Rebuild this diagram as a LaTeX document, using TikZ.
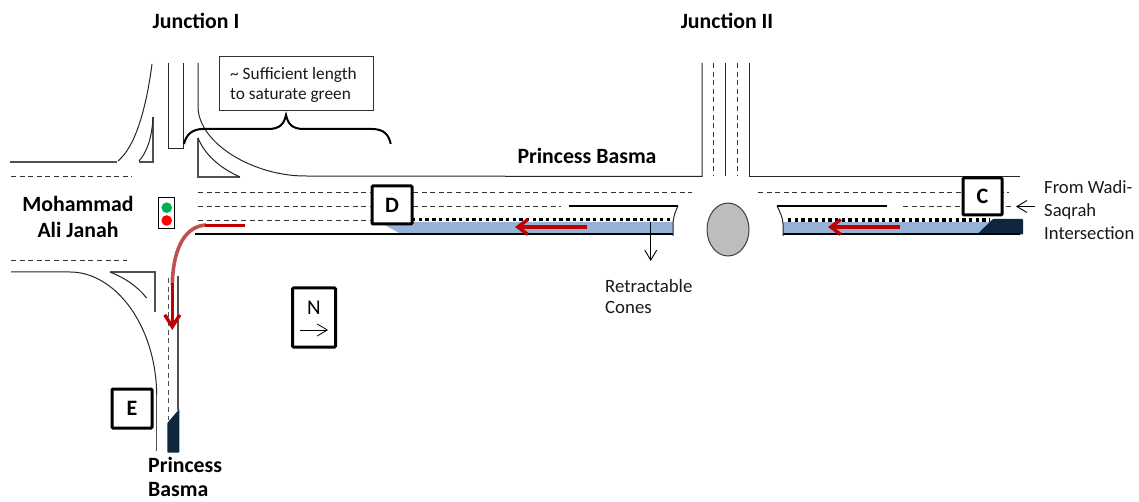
\documentclass[tikz,border=0pt]{standalone}
\usepackage{fontspec}
\setmainfont{Carlito}
\usetikzlibrary{arrows.meta,shapes.geometric}
\definecolor{laneblue}{HTML}{95B3D7}
\definecolor{navyfill}{HTML}{10263F}
\definecolor{redarrow}{HTML}{C00000}
\definecolor{redfade}{HTML}{C0504D}
\definecolor{gline}{HTML}{505050}
\definecolor{signalgreen}{HTML}{00B050}
\definecolor{signalred}{HTML}{FF0000}
\tikzset{
  roadline/.style={draw=black!85,line width=1pt},
  greyline/.style={draw=gline,line width=1.1pt},
  lanedash/.style={draw=black!80,line width=0.9pt,dash pattern=on 5pt off 3.6pt},
  dotline/.style={draw=black,line width=3.4pt,dash pattern=on 3.4pt off 3.3pt},
  thickline/.style={draw=black,line width=2pt},
  tagbox/.style={draw=black,line width=3pt,fill=white,rounded corners=1pt,font=\fontsize{22}{22}\selectfont\bfseries,inner sep=0pt},
  boldlabel/.style={font=\fontsize{21.8}{26}\selectfont\bfseries,align=center,inner sep=0pt},
  plainlabel/.style={font=\fontsize{18.8}{21}\selectfont,align=left,inner sep=0pt,text=black!90},
  pointer/.style={draw=black,line width=0.9pt,-{Straight Barb[length=10pt,width=12pt]}},
  redthick/.style={draw=redarrow,line width=3.6pt},
}
\begin{document}
\begin{tikzpicture}[x=1pt,y=-1pt]
\useasboundingbox (0,0) rectangle (1139,502);
% blue lanes
\fill[laneblue] (383,224) -- (400,233.5) -- (673,233.5) -- (673,222) -- (395,222) -- cycle;
\fill[laneblue] (783,222) -- (783,233.5) -- (980,233.5) -- (995,222) -- cycle;
\fill[navyfill,rounded corners=0.8pt] (977,234.5) -- (993,219) -- (1023,219) -- (1023,234.5) -- cycle;
\fill[navyfill,rounded corners=0.8pt] (167.3,423) -- (179.3,409) -- (179.3,452.7) -- (167.3,452.7) -- cycle;
% junction I, north side
\draw[greyline] (10,162) -- (117,162);
\draw[roadline] (118,161) .. controls (135,147) and (146,110) .. (152,64);
\draw[greyline] (153,117) -- (153,162) -- (139,162);
\draw[roadline] (139,161) .. controls (147,152) and (152,138) .. (153,117);
\draw[roadline] (168.5,63) -- (168.5,149) -- (183,149) -- (183,63);
\draw[roadline] (198,63) -- (198,108) .. controls (200,145) and (255,176) .. (305,176) -- (702,176.5) -- (702,63);
\draw[greyline] (198,138) -- (198,177) -- (240,177);
\draw[roadline] (198,138) .. controls (205,155) and (220,168) .. (240,177);
\draw[lanedash] (11,176.5) -- (132,176.5);
% lanes west
\draw[lanedash] (198,192) -- (692,192);
\draw[lanedash] (198,206) -- (561,206);
\draw[lanedash] (198,220) -- (372,220);
\draw[dotline] (412,219.5) -- (673,219.5);
\draw[thickline] (569,206.5) -- (678,206.5);
\draw[thickline] (195,234) -- (673,234);
\draw[roadline] (678,206) .. controls (675,212) and (673,218) .. (673,224) -- (673,236);
% junction II
\draw[roadline] (749.5,63) -- (749.5,177) -- (1020,177);
\draw[roadline] (725,63) -- (725,176);
\draw[lanedash] (713,63) -- (713,176);
\draw[lanedash] (737.5,63) -- (737.5,176);
\node[draw=black!75,line width=1pt,fill=black!26,ellipse,minimum width=42pt,minimum height=53pt,inner sep=0pt] (roundabout) at (728,229.5) {};
% lanes east
\draw[lanedash] (758,192) -- (1009,192);
\draw[lanedash] (903,206.5) -- (1013,206.5);
\draw[thickline] (777,206.5) -- (887,206.5);
\draw[dotline] (788,220) -- (990,220);
\draw[thickline] (783,234) -- (1020,234);
\draw[roadline] (777,206) .. controls (780,212) and (783,218) .. (783,224) -- (783,236);
% south side
\draw[lanedash] (11,260) -- (127,260);
\draw[roadline] (11,272) -- (70,272) .. controls (115,272) and (156,325) .. (156.7,395);
\draw[greyline] (156.7,395) -- (156.7,451);
\draw[greyline] (110,272) -- (155,272) -- (155,312);
\draw[roadline] (110,272) .. controls (125,278) and (137,286) .. (146.6,298);
\draw[lanedash,draw=gline] (168,278) -- (168,420);
\draw[greyline] (178,276) -- (178,410);
% red movements
\draw[draw=redfade,line width=3.6pt] (206,225) .. controls (187,226) and (173,245) .. (172.3,285);
\draw[redthick] (205,225.5) -- (245,225.5);
\draw[redthick,-{Straight Barb[length=12pt,width=15pt,line width=3.4pt]}] (172.3,283) -- (172.3,330);
\draw[redthick,-{Straight Barb[length=10pt,width=15pt,line width=3.4pt]}] (587,227) -- (515,227);
\draw[redthick,-{Straight Barb[length=10pt,width=15pt,line width=3.4pt]}] (900,227) -- (828,227);
% signal
\node[draw=black,line width=0.9pt,fill=white,minimum width=16pt,minimum height=31pt,inner sep=0pt] (signal) at (166,212.5) {};
\fill[signalgreen] (166.7,207.7) circle (5.3);
\fill[signalred] (166.7,220.5) circle (5.3);
% brace
\draw[draw=black,line width=2pt] (184,144) .. controls (186,135) and (192,129) .. (203,129) -- (268,129) .. controls (280,129) and (284,124) .. (286,115) .. controls (288,124) and (292,129) .. (304,129) -- (372,129) .. controls (384,129) and (389,135) .. (390.7,144);
% tags and labels
\node[draw=black!80,line width=1pt,fill=white,minimum width=154pt,minimum height=53.5pt,inner sep=0pt] (notebox) at (296,83.5) {};
\node[plainlabel,anchor=west,font=\fontsize{17.3}{20}\selectfont] (notetext) at (230,84.5) {\textasciitilde{} Sufficient length\\to saturate green};
\node[tagbox,minimum width=40pt,minimum height=38pt] (tagD) at (392,205) {D};
\node[tagbox,minimum width=39pt,minimum height=37pt] (tagC) at (982.5,196.5) {C};
\node[tagbox,minimum width=40pt,minimum height=39pt] (tagE) at (132,408.5) {E};
\node[draw=black,line width=3pt,fill=white,rounded corners=1pt,minimum width=43pt,minimum height=59pt,inner sep=0pt] (tagN) at (314,317.5) {};
\node[inner sep=0pt,font=\fontsize{21}{21}\selectfont] (northtext) at (314,308) {N};
\coordinate (northA) at (300,330);
\coordinate (northB) at (328,330);
\draw[pointer,line width=0.8pt] (northA) -- (northB);
\node[boldlabel] (junction1) at (196,21) {Junction I};
\node[boldlabel] (junction2) at (727,21) {Junction II};
\node[boldlabel] (mainroad) at (587,156) {Princess Basma};
\node[boldlabel] (west) at (78,217) {Mohammad\\Ali Janah};
\node[boldlabel,align=left,anchor=north west,font=\fontsize{21.8}{24.5}\selectfont\bfseries] (south) at (148,457) {Princess\\Basma};
\node[plainlabel,anchor=west] (cones) at (605,296.5) {Retractable\\Cones};
\node[plainlabel,anchor=west,font=\fontsize{18.6}{23}\selectfont] (source) at (1044,210) {From Wadi-\\Saqrah\\Intersection};
\coordinate (coneA) at (650.7,222);
\coordinate (coneB) at (650.7,261);
\draw[pointer] (coneA) -- (coneB);
\coordinate (srcA) at (1035,206.5);
\coordinate (srcB) at (1016,206.5);
\draw[pointer] (srcA) -- (srcB);
\end{tikzpicture}
\end{document}
